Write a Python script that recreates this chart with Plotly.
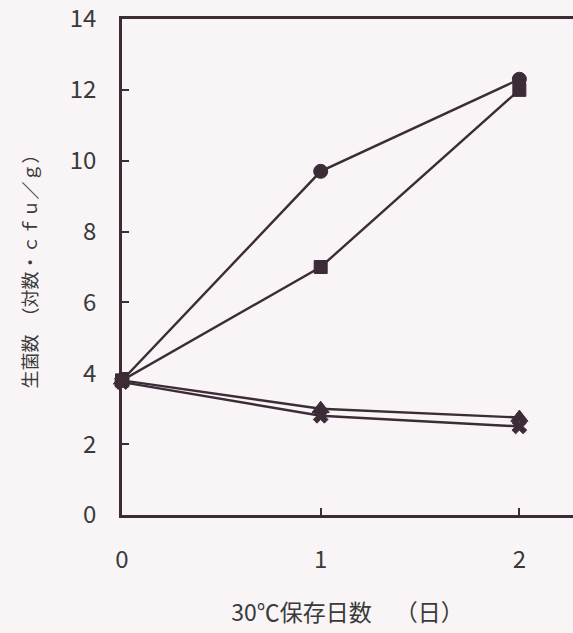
import plotly.graph_objects as go

# Storage days at 30 °C
days = [0, 1, 2]

# Viable counts (log cfu/g) for each sample
circle_vals = [3.8, 9.7, 12.3]
square_vals = [3.8, 7.0, 12.0]
triangle_vals = [3.8, 3.0, 2.75]
cross_vals = [3.75, 2.8, 2.5]

y_ticks = [0, 2, 4, 6, 8, 10, 12, 14]
x_ticks = [0, 1, 2]

ink = "#3b2c37"
paper = "#f9f5f7"
font_family = "Noto Sans CJK JP, DejaVu Sans, sans-serif"

series = [
    (cross_vals, "x", 13),
    (triangle_vals, "triangle-up", 15),
    (square_vals, "square", 13),
    (circle_vals, "circle", 14),
]

fig = go.Figure()
for vals, symbol, size in series:
    fig.add_trace(go.Scatter(
        x=days, y=vals, mode="lines+markers",
        line=dict(color=ink, width=2.4),
        marker=dict(symbol=symbol, size=size, color=ink,
                    line=dict(color=ink, width=1)),
        cliponaxis=False, showlegend=False,
    ))

fig.update_layout(
    width=573, height=633,
    margin=dict(l=122, r=0, t=19, b=118),
    paper_bgcolor=paper, plot_bgcolor=paper,
    font=dict(family=font_family, color="#3a3a3a", size=24),
    xaxis=dict(
        range=[0, 2.27], tickvals=x_ticks, ticktext=[str(v) for v in x_ticks],
        ticks="inside", ticklen=7, tickwidth=2, tickcolor=ink,
        showline=True, linecolor=ink, linewidth=2.5, mirror=True,
        showgrid=False, zeroline=False, ticklabelstandoff=21,
        ticklabeloverflow="allow",
        title=dict(text="30℃保存日数\u2003（日）", standoff=32,
                   font=dict(size=23)),
    ),
    yaxis=dict(
        range=[0, 14], tickvals=y_ticks, ticktext=[str(v) for v in y_ticks],
        ticks="inside", ticklen=7, tickwidth=2, tickcolor=ink,
        showline=True, linecolor=ink, linewidth=2.5, mirror=False,
        showgrid=False, zeroline=False, ticklabelstandoff=18,
        ticklabeloverflow="allow",
        title=dict(text="生菌数\u2002（対数・ｃｆｕ／ｇ）", standoff=28,
                   font=dict(size=18)),
    ),
)

fig.write_html("out.html")
